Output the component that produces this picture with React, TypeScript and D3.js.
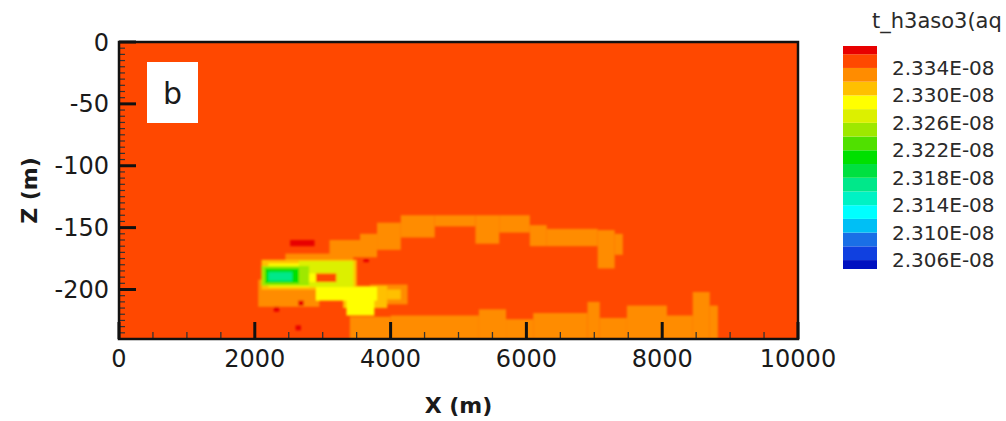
import React, { useEffect, useRef } from "react";
import * as d3 from "d3";

// axis ticks
const X_TICKS = [0, 2000, 4000, 6000, 8000, 10000];
const Z_TICKS = [0, -50, -100, -150, -200];

// contour levels (x 1e-8) and band colours, low -> high
const LEVELS = [2.306, 2.308, 2.31, 2.312, 2.314, 2.316, 2.318, 2.32, 2.322, 2.324, 2.326, 2.328, 2.33, 2.332, 2.334, 2.336];
const LEVEL_COLORS = [
  "#0010c0", "#1040e0", "#1a6fe6", "#00bff5", "#00ffff", "#00f2c4", "#00e88a", "#00e040", "#00e000",
  "#50e000", "#9ee800", "#dcf000", "#ffff00", "#ffc000", "#ff8c00", "#ff4800", "#e80000",
];
const LEGEND_LEVELS = [2.334, 2.33, 2.326, 2.322, 2.318, 2.314, 2.31, 2.306];
const LEGEND_RANGE = [2.3047, 2.3372];
const LEGEND_TITLE = "t_h3aso3(aq";

// field: background value + patches [x0, x1, zTop, zBottom, value], painted in order
const BACKGROUND_VALUE = 2.335;
const UPPER_BAND = [
  [3100, 3800, -160, -174, 2.333],
  [3550, 3800, -155, -160, 2.333],
  [3800, 4150, -146, -168, 2.333],
  [4150, 4650, -140, -158, 2.333],
  [4650, 5250, -140, -149, 2.333],
  [5250, 5600, -140, -163, 2.333],
  [5600, 6050, -140, -154, 2.333],
  [6050, 6300, -148, -165, 2.333],
  [6300, 7050, -151, -165, 2.333],
  [7050, 7300, -152, -183, 2.333],
  [7300, 7420, -155, -172, 2.333],
];
const LOWER_BAND = [
  [3400, 4000, -222, -240, 2.333],
  [4000, 5300, -221, -240, 2.333],
  [5300, 5700, -216, -240, 2.333],
  [5700, 6100, -224, -240, 2.333],
  [6100, 6900, -219, -240, 2.333],
  [6900, 7080, -210, -240, 2.333],
  [7080, 7480, -223, -240, 2.333],
  [7480, 8070, -213, -240, 2.333],
  [8070, 8450, -221, -240, 2.333],
  [8450, 8700, -202, -240, 2.333],
  [8700, 8820, -213, -240, 2.333],
];
const SOURCE_ZONE = [
  [2050, 2950, -192, -214, 2.333],
  [3700, 4250, -196, -212, 2.333],
  [2450, 3450, -171, -179, 2.333],
  [2100, 3500, -176, -200, 2.331],
  [3300, 3950, -197, -215, 2.331],
  [3950, 4150, -200, -208, 2.331],
  [2200, 3450, -179, -198, 2.329],
  [2900, 3800, -198, -209, 2.329],
  [3350, 3760, -202, -221, 2.329],
  [2650, 3450, -177, -187, 2.327],
  [3200, 3450, -186, -196, 2.327],
  [2800, 3450, -194, -198, 2.327],
  [2100, 2800, -181, -197, 2.325],
  [2150, 2650, -183, -195, 2.321],
  [2200, 2550, -186, -193, 2.317],
  [2900, 3200, -187, -194, 2.335],
];
const HOT_SPOTS = [
  [2520, 2880, -160, -165, 2.3365],
  [3600, 3680, -175, -178, 2.3365],
  [2640, 2720, -209, -213, 2.3365],
  [2280, 2360, -214, -218, 2.3365],
  [2600, 2680, -229, -233, 2.3365],
];

const App = () => {
  const ref = useRef<SVGSVGElement>(null);

  useEffect(() => {
    const svg = d3.select(ref.current);
    svg.selectAll("*").remove();

    const x = d3.scaleLinear().domain([0, 10000]).range([119, 798]);
    const y = d3.scaleLinear().domain([0, -240]).range([42, 339]);
    const color = d3.scaleThreshold<number, string>().domain(LEVELS).range(LEVEL_COLORS);
    const x0 = x(0), x1 = x(10000), y0 = y(0), y1 = y(-240);

    const defs = svg.append("defs");
    defs.append("clipPath").attr("id", "plotClip")
      .append("rect").attr("x", x0).attr("y", y0).attr("width", x1 - x0).attr("height", y1 - y0);
    defs.append("filter").attr("id", "soft")
      .append("feGaussianBlur").attr("stdDeviation", 1.2);

    const field = svg.append("g").attr("clip-path", "url(#plotClip)");
    field.append("rect")
      .attr("x", x0).attr("y", y0).attr("width", x1 - x0).attr("height", y1 - y0)
      .attr("fill", color(BACKGROUND_VALUE));

    const patches = [...UPPER_BAND, ...LOWER_BAND, ...SOURCE_ZONE, ...HOT_SPOTS];
    field.append("g").attr("filter", "url(#soft)")
      .selectAll("rect")
      .data(patches)
      .enter().append("rect")
      .attr("x", d => x(d[0]))
      .attr("y", d => y(d[2]))
      .attr("width", d => x(d[1]) - x(d[0]))
      .attr("height", d => y(d[3]) - y(d[2]))
      .attr("fill", d => color(d[4]));

    // "b" panel label
    svg.append("rect").attr("x", 147).attr("y", 62).attr("width", 51).attr("height", 61).attr("fill", "#fff");
    svg.append("text").attr("x", 172.5).attr("y", 104)
      .attr("text-anchor", "middle")
      .style("font-size", "30px").style("fill", "#1a1a1a")
      .text("b");

    // ticks (inward, left and bottom only)
    const ticks = svg.append("g");
    ticks.selectAll("line.xminor")
      .data(d3.range(0, 10001, 500))
      .enter().append("line").attr("class", "xminor")
      .attr("x1", d => x(d)).attr("x2", d => x(d))
      .attr("y1", y1).attr("y2", y1 - 7)
      .attr("stroke", "#333").attr("stroke-width", 1.3);
    ticks.selectAll("line.zminor")
      .data(d3.range(0, -241, -5))
      .enter().append("line").attr("class", "zminor")
      .attr("x1", x0).attr("x2", x0 + 6)
      .attr("y1", d => y(d)).attr("y2", d => y(d))
      .attr("stroke", "#333").attr("stroke-width", 1.2);
    ticks.selectAll("line.xmajor")
      .data(X_TICKS)
      .enter().append("line").attr("class", "xmajor")
      .attr("x1", d => x(d)).attr("x2", d => x(d))
      .attr("y1", y1).attr("y2", y1 - 17)
      .attr("stroke", "#111").attr("stroke-width", 3);
    ticks.selectAll("line.zmajor")
      .data(Z_TICKS)
      .enter().append("line").attr("class", "zmajor")
      .attr("x1", x0).attr("x2", x0 + 17)
      .attr("y1", d => y(d)).attr("y2", d => y(d))
      .attr("stroke", "#111").attr("stroke-width", 3);

    // frame
    svg.append("rect")
      .attr("x", x0).attr("y", y0).attr("width", x1 - x0).attr("height", y1 - y0)
      .attr("fill", "none").attr("stroke", "#111").attr("stroke-width", 2.5);

    // tick labels
    svg.append("g").selectAll("text")
      .data(X_TICKS)
      .enter().append("text")
      .attr("x", d => x(d)).attr("y", y1 + 28)
      .attr("text-anchor", "middle")
      .style("font-size", "24px").style("fill", "#1a1a1a")
      .text(d => String(d));
    svg.append("g").selectAll("text")
      .data(Z_TICKS)
      .enter().append("text")
      .attr("x", x0 - 10).attr("y", d => y(d) + 8.5)
      .attr("text-anchor", "end")
      .style("font-size", "24px").style("fill", "#1a1a1a")
      .text(d => String(d));

    // axis titles
    svg.append("text").attr("x", (x0 + x1) / 2).attr("y", 413)
      .attr("text-anchor", "middle")
      .style("font-size", "22px").style("font-weight", "bold").style("fill", "#1a1a1a")
      .text("X (m)");
    svg.append("text").attr("transform", `translate(37,${(y0 + y1) / 2}) rotate(-90)`)
      .attr("text-anchor", "middle")
      .style("font-size", "22px").style("font-weight", "bold").style("fill", "#1a1a1a")
      .text("Z (m)");

    // legend
    const ly = d3.scaleLinear().domain(LEGEND_RANGE).range([269, 46]);
    const bounds = [LEGEND_RANGE[0], ...LEVELS, LEGEND_RANGE[1]];
    const bands = d3.range(bounds.length - 1).map(i => [bounds[i], bounds[i + 1]]);
    const legend = svg.append("g");
    legend.selectAll("rect")
      .data(bands)
      .enter().append("rect")
      .attr("x", 843).attr("width", 34)
      .attr("y", d => ly(d[1]))
      .attr("height", d => ly(d[0]) - ly(d[1]))
      .attr("fill", d => color((d[0] + d[1]) / 2));
    legend.selectAll("text.lbl")
      .data(LEGEND_LEVELS)
      .enter().append("text")
      .attr("class", "lbl")
      .attr("x", 892)
      .attr("y", d => ly(d) + 7)
      .style("font-size", "20px").style("fill", "#2a2a2a")
      .text(d => `${d.toFixed(3)}E-08`);
    legend.append("text").attr("x", 872).attr("y", 28)
      .style("font-size", "21px").style("fill", "#2a2a2a")
      .text(LEGEND_TITLE);
  }, []);

  return (
    <svg
      ref={ref}
      width={1006}
      height={421}
      style={{ position: "absolute", left: 0, top: 0, background: "#fff", fontFamily: "DejaVu Sans" }}
    />
  );
};

export default App;
